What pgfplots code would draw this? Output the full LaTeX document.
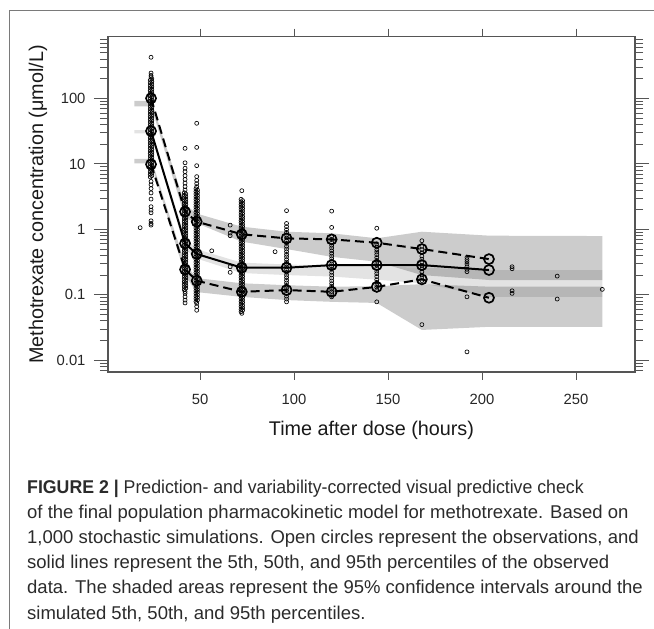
\documentclass[border=0pt]{standalone}
\usepackage{fontspec}
\setmainfont{Liberation Sans}
\newfontfamily\capfont{Liberation Sans}
\usepackage{pgfplots}
\pgfplotsset{compat=1.18}

\definecolor{axisgray}{HTML}{555555}
\definecolor{framegray}{HTML}{7A7A7A}
\definecolor{captext}{HTML}{2B2B2B}

\begin{document}
\begin{tikzpicture}
\useasboundingbox (0pt,0pt) rectangle (654pt,-629pt);
\draw[framegray, line width=0.9pt] (9.3pt,-629pt) -- (9.3pt,-10.7pt) -- (654pt,-10.7pt);
\begin{axis}[
  at={(108pt,-372pt)}, anchor=south west,
  scale only axis, width=527pt, height=335.3pt,
  ymode=log, xmin=1, xmax=281.4, ymin=0.0066, ymax=880,
  axis line style={axisgray, line width=1.1pt},
  every tick/.style={axisgray, line width=0.9pt},
  tick align=outside,
  major tick length=14pt, minor tick length=8pt,
  xtick={50,100,150,200,250}, xticklabels={50,100,150,200,250},
  major x tick style={draw=none},
  minor xtick={50,100,150,200,250},
  ytick={0.01,0.1,1,10,100}, yticklabels={0.01,0.1,1,10,100},
  minor ytick={0.007,0.008,0.009,0.02,0.03,0.04,0.05,0.06,0.07,0.08,0.09,
    0.2,0.3,0.4,0.5,0.6,0.7,0.8,0.9,2,3,4,5,6,7,8,9,
    20,30,40,50,60,70,80,90,200,300,400,500,600,700,800},
  /pgf/number format/assume math mode=true,
  tick label style={font=\fontsize{14.8}{16}\selectfont, text=black!85},
  xticklabel style={yshift=-5pt},
  yticklabel style={xshift=-5pt},
  label style={font=\fontsize{19.8}{22}\selectfont, text=black!90},
  xlabel={Time after dose (hours)},
  ylabel={Methotrexate concentration (μmol/L)},
  xlabel style={at={(axis description cs:0.5,0)}, anchor=center, yshift=-58pt},
  ylabel style={at={(axis description cs:-0.1328,0.5)}, anchor=center},
]
% CI band of the simulated 95th percentile
\addplot[fill=black, fill opacity=0.2, draw=none] table[row sep=\\] {
x y\\
15 92\\ 24 92\\ 42 2.4\\ 48 1.75\\ 72 1.10\\ 96 0.92\\ 120 0.87\\ 144 0.73\\
168 0.92\\ 204 0.80\\ 264 0.79\\
264 0.168\\ 204 0.168\\ 168 0.20\\ 144 0.32\\ 120 0.38\\ 96 0.50\\ 72 0.65\\
48 1.25\\ 42 1.5\\ 24 76\\ 15 76\\
};
% CI band of the simulated median
\addplot[fill=black, fill opacity=0.11, draw=none] table[row sep=\\] {
x y\\
15 33\\ 24 33\\ 42 0.75\\ 48 0.50\\ 72 0.31\\ 96 0.29\\ 120 0.28\\ 144 0.27\\
168 0.26\\ 204 0.239\\ 264 0.239\\
264 0.093\\ 204 0.093\\ 168 0.15\\ 144 0.17\\ 120 0.19\\ 96 0.20\\ 72 0.215\\
48 0.36\\ 42 0.50\\ 24 29.4\\ 15 29.4\\
};
% CI band of the simulated 5th percentile
\addplot[fill=black, fill opacity=0.2, draw=none] table[row sep=\\] {
x y\\
15 11.9\\ 24 11.9\\ 42 0.30\\ 48 0.18\\ 72 0.15\\ 96 0.14\\ 120 0.133\\ 144 0.135\\
168 0.145\\ 204 0.133\\ 264 0.133\\
264 0.0324\\ 204 0.0324\\ 168 0.029\\ 144 0.075\\ 120 0.078\\ 96 0.083\\ 72 0.093\\
48 0.11\\ 42 0.20\\ 24 10.2\\ 15 10.2\\
};
% observations
\addplot[only marks, mark=o, mark size=2pt, mark options={black, line width=0.65pt}] table[row sep=\\] {
x y\\
23.9 427\\ 23.9 245\\ 23.9 225\\ 23.9 213\\
23.5 6.31\\ 24.3 6.61\\ 23.5 6.92\\ 24.3 7.24\\ 23.5 7.59\\ 24.3 7.94\\ 23.5 8.32\\ 24.3 8.71\\
23.5 9.12\\ 24.3 9.55\\ 23.5 10\\ 24.3 10.5\\ 23.5 11\\ 24.3 11.5\\ 23.5 12\\ 24.3 12.6\\
23.5 13.2\\ 24.3 13.8\\ 23.5 14.5\\ 24.3 15.1\\ 23.5 15.8\\ 24.3 16.6\\ 23.5 17.4\\ 24.3 18.2\\
23.5 19.1\\ 24.3 20\\ 23.5 20.9\\ 24.3 21.9\\ 23.5 22.9\\ 24.3 24\\ 23.5 25.1\\ 24.3 26.3\\
23.5 27.5\\ 24.3 28.8\\ 23.5 30.2\\ 24.3 31.6\\ 23.5 33.1\\ 24.3 34.7\\ 23.5 36.3\\ 24.3 38\\
23.5 39.8\\ 24.3 41.7\\ 23.5 43.7\\ 24.3 45.7\\ 23.5 47.9\\ 24.3 50.1\\ 23.5 52.5\\ 24.3 55\\
23.5 57.5\\ 24.3 60.3\\ 23.5 63.1\\ 24.3 66.1\\ 23.5 69.2\\ 24.3 72.4\\ 23.5 75.9\\ 24.3 79.4\\
23.5 83.2\\ 24.3 87.1\\ 23.5 91.2\\ 24.3 95.5\\ 23.5 100\\ 24.3 105\\ 23.5 110\\ 24.3 115\\
23.5 120\\ 24.3 126\\ 23.5 132\\ 24.3 138\\ 23.5 145\\ 24.3 151\\ 23.5 158\\ 24.3 166\\
23.5 174\\ 24.3 182\\ 23.5 191\\ 24.3 200\\
23.9 5.4\\ 23.9 4.8\\ 23.9 4.2\\ 23.9 3.6\\ 23.9 2.9\\ 23.9 2.22\\ 23.9 1.97\\ 23.9 1.79\\
23.9 1.35\\ 23.9 1.23\\ 23.9 1.16\\
18.1 1.06\\
42.0 17.3\\ 42.0 10.4\\ 42.0 8.6\\ 42.0 7.6\\ 42.0 6.6\\ 42.0 5.8\\ 42.0 5.1\\ 42.0 4.5\\ 42.0 4.0\\
41.6 0.12\\ 42.4 0.126\\ 41.6 0.132\\ 42.4 0.138\\ 41.6 0.145\\ 42.4 0.151\\ 41.6 0.158\\ 42.4 0.166\\
41.6 0.174\\ 42.4 0.182\\ 41.6 0.191\\ 42.4 0.2\\ 41.6 0.209\\ 42.4 0.219\\ 41.6 0.229\\ 42.4 0.24\\
41.6 0.251\\ 42.4 0.263\\ 41.6 0.275\\ 42.4 0.288\\ 41.6 0.302\\ 42.4 0.316\\ 41.6 0.331\\ 42.4 0.347\\
41.6 0.363\\ 42.4 0.38\\ 41.6 0.398\\ 42.4 0.417\\ 41.6 0.437\\ 42.4 0.457\\ 41.6 0.479\\ 42.4 0.501\\
41.6 0.525\\ 42.4 0.55\\ 41.6 0.575\\ 42.4 0.603\\ 41.6 0.631\\ 42.4 0.661\\ 41.6 0.692\\ 42.4 0.724\\
41.6 0.759\\ 42.4 0.794\\ 41.6 0.832\\ 42.4 0.871\\ 41.6 0.912\\ 42.4 0.955\\ 41.6 1\\ 42.4 1.05\\
41.6 1.1\\ 42.4 1.15\\ 41.6 1.2\\ 42.4 1.26\\ 41.6 1.32\\ 42.4 1.38\\ 41.6 1.45\\ 42.4 1.51\\
41.6 1.58\\ 42.4 1.66\\ 41.6 1.74\\ 42.4 1.82\\ 41.6 1.91\\ 42.4 2\\ 41.6 2.09\\ 42.4 2.19\\
41.6 2.29\\ 42.4 2.4\\ 41.6 2.51\\ 42.4 2.63\\ 41.6 2.75\\ 42.4 2.88\\ 41.6 3.02\\ 42.4 3.16\\
41.6 3.31\\ 42.4 3.47\\ 41.6 3.63\\
42.0 0.112\\ 42.0 0.105\\ 42.0 0.093\\ 42.0 0.083\\ 42.0 0.075\\
48.2 41.8\\ 48.2 17.9\\ 48.2 9.4\\ 48.2 6.4\\ 48.2 5.6\\ 48.2 5.0\\ 48.2 4.5\\
47.8 0.079\\ 48.6 0.083\\ 47.8 0.087\\ 48.6 0.091\\ 47.8 0.095\\ 48.6 0.1\\ 47.8 0.105\\ 48.6 0.11\\
47.8 0.115\\ 48.6 0.12\\ 47.8 0.126\\ 48.6 0.132\\ 47.8 0.138\\ 48.6 0.145\\ 47.8 0.151\\ 48.6 0.158\\
47.8 0.166\\ 48.6 0.174\\ 47.8 0.182\\ 48.6 0.191\\ 47.8 0.2\\ 48.6 0.209\\ 47.8 0.219\\ 48.6 0.229\\
47.8 0.24\\ 48.6 0.251\\ 47.8 0.263\\ 48.6 0.275\\ 47.8 0.288\\ 48.6 0.302\\ 47.8 0.316\\ 48.6 0.331\\
47.8 0.347\\ 48.6 0.363\\ 47.8 0.38\\ 48.6 0.398\\ 47.8 0.417\\ 48.6 0.437\\ 47.8 0.457\\ 48.6 0.479\\
47.8 0.501\\ 48.6 0.525\\ 47.8 0.55\\ 48.6 0.575\\ 47.8 0.603\\ 48.6 0.631\\ 47.8 0.661\\ 48.6 0.692\\
47.8 0.724\\ 48.6 0.759\\ 47.8 0.794\\ 48.6 0.832\\ 47.8 0.871\\ 48.6 0.912\\ 47.8 0.955\\ 48.6 1\\
47.8 1.05\\ 48.6 1.1\\ 47.8 1.15\\ 48.6 1.2\\ 47.8 1.26\\ 48.6 1.32\\ 47.8 1.38\\ 48.6 1.45\\
47.8 1.51\\ 48.6 1.58\\ 47.8 1.66\\ 48.6 1.74\\ 47.8 1.82\\ 48.6 1.91\\ 47.8 2\\ 48.6 2.09\\
47.8 2.19\\ 48.6 2.29\\ 47.8 2.4\\ 48.6 2.51\\ 47.8 2.63\\ 48.6 2.75\\ 47.8 2.88\\ 48.6 3.02\\
47.8 3.16\\ 48.6 3.31\\ 47.8 3.47\\ 48.6 3.63\\ 47.8 3.8\\ 48.6 3.98\\ 47.8 4.17\\
48.2 0.074\\ 48.2 0.066\\ 48.2 0.058\\
56.2 0.47\\ 66.0 1.16\\ 66.0 0.88\\ 66.0 0.80\\ 66.0 0.268\\ 66.0 0.22\\
72.2 3.9\\
71.8 0.055\\ 72.6 0.058\\ 71.8 0.06\\ 72.6 0.063\\ 71.8 0.066\\ 72.6 0.069\\ 71.8 0.072\\ 72.6 0.076\\
71.8 0.079\\ 72.6 0.083\\ 71.8 0.087\\ 72.6 0.091\\ 71.8 0.095\\ 72.6 0.1\\ 71.8 0.105\\ 72.6 0.11\\
71.8 0.115\\ 72.6 0.12\\ 71.8 0.126\\ 72.6 0.132\\ 71.8 0.138\\ 72.6 0.145\\ 71.8 0.151\\ 72.6 0.158\\
71.8 0.166\\ 72.6 0.174\\ 71.8 0.182\\ 72.6 0.191\\ 71.8 0.2\\ 72.6 0.209\\ 71.8 0.219\\ 72.6 0.229\\
71.8 0.24\\ 72.6 0.251\\ 71.8 0.263\\ 72.6 0.275\\ 71.8 0.288\\ 72.6 0.302\\ 71.8 0.316\\ 72.6 0.331\\
71.8 0.347\\ 72.6 0.363\\ 71.8 0.38\\ 72.6 0.398\\ 71.8 0.417\\ 72.6 0.437\\ 71.8 0.457\\ 72.6 0.479\\
71.8 0.501\\ 72.6 0.525\\ 71.8 0.55\\ 72.6 0.575\\ 71.8 0.603\\ 72.6 0.631\\ 71.8 0.661\\ 72.6 0.692\\
71.8 0.724\\ 72.6 0.759\\ 71.8 0.794\\ 72.6 0.832\\ 71.8 0.871\\ 72.6 0.912\\ 71.8 0.955\\ 72.6 1\\
71.8 1.05\\ 72.6 1.1\\ 71.8 1.15\\ 72.6 1.2\\ 71.8 1.26\\ 72.6 1.32\\ 71.8 1.38\\ 72.6 1.45\\
71.8 1.51\\ 72.6 1.58\\ 71.8 1.66\\ 72.6 1.74\\ 71.8 1.82\\ 72.6 1.91\\ 71.8 2\\ 72.6 2.09\\
71.8 2.19\\ 72.6 2.29\\ 71.8 2.4\\ 72.6 2.51\\ 71.8 2.63\\ 72.6 2.75\\ 71.8 2.88\\
72.2 0.052\\
89.9 0.455\\
96.0 1.93\\ 96.0 1.23\\ 96.0 1.1\\ 96.0 0.99\\ 96.0 0.9\\ 96.0 0.82\\ 96.0 0.74\\ 96.0 0.67\\
96.0 0.61\\ 96.0 0.55\\ 96.0 0.5\\ 96.0 0.455\\ 96.0 0.415\\ 96.0 0.38\\ 96.0 0.345\\ 96.0 0.315\\
96.0 0.29\\ 96.0 0.265\\ 96.0 0.24\\ 96.0 0.22\\ 96.0 0.2\\ 96.0 0.183\\ 96.0 0.167\\ 96.0 0.152\\
96.0 0.139\\ 96.0 0.127\\ 96.0 0.116\\ 96.0 0.105\\ 96.0 0.095\\ 96.0 0.086\\ 96.0 0.078\\
120.0 1.9\\ 120.0 1.07\\ 120.0 0.78\\ 120.0 0.7\\ 120.0 0.63\\ 120.0 0.57\\ 120.0 0.52\\ 120.0 0.47\\
120.0 0.43\\ 120.0 0.39\\ 120.0 0.355\\ 120.0 0.325\\ 120.0 0.295\\ 120.0 0.27\\ 120.0 0.245\\ 120.0 0.22\\
120.0 0.2\\ 120.0 0.18\\ 120.0 0.163\\ 120.0 0.148\\ 120.0 0.135\\ 120.0 0.123\\ 120.0 0.112\\ 120.0 0.104\\
120.0 0.093\\
144.0 1.04\\ 144.0 0.6\\ 144.0 0.54\\ 144.0 0.49\\ 144.0 0.45\\ 144.0 0.41\\ 144.0 0.37\\ 144.0 0.335\\
144.0 0.305\\ 144.0 0.28\\ 144.0 0.255\\ 144.0 0.23\\ 144.0 0.21\\ 144.0 0.19\\ 144.0 0.17\\ 144.0 0.155\\
144.0 0.14\\ 144.0 0.13\\ 144.0 0.118\\ 144.0 0.078\\
168.0 0.67\\ 168.0 0.55\\ 168.0 0.49\\ 168.0 0.44\\ 168.0 0.39\\ 168.0 0.35\\ 168.0 0.315\\ 168.0 0.28\\
168.0 0.25\\ 168.0 0.225\\ 168.0 0.2\\ 168.0 0.18\\ 168.0 0.165\\ 168.0 0.035\\
192.0 0.373\\ 192.0 0.345\\ 192.0 0.32\\ 192.0 0.295\\ 192.0 0.268\\ 192.0 0.245\\ 192.0 0.225\\
192.0 0.093\\ 192.0 0.0134\\
216.0 0.268\\ 216.0 0.25\\ 216.0 0.115\\ 216.0 0.105\\
240.0 0.193\\ 240.0 0.086\\
264.0 0.121\\
};
% observed percentiles
\addplot[black, line width=2pt, dash pattern=on 9pt off 5pt, mark=o, mark size=5pt,
  mark options={solid, line width=1.7pt}] table[row sep=\\] {
x y\\
23.9 100.7\\ 42.0 1.86\\ 48.2 1.31\\ 72.2 0.84\\ 96.0 0.728\\ 120.0 0.703\\ 144.0 0.624\\
168.0 0.50\\ 203.7 0.351\\
};
\addplot[black, line width=2pt, mark=o, mark size=5pt, mark options={line width=1.7pt}] table[row sep=\\] {
x y\\
23.9 31.8\\ 42.0 0.61\\ 48.2 0.42\\ 72.2 0.259\\ 96.0 0.259\\ 120.0 0.284\\ 144.0 0.284\\
168.0 0.284\\ 203.7 0.239\\
};
\addplot[black, line width=2pt, dash pattern=on 9pt off 5pt, mark=o, mark size=5pt,
  mark options={solid, line width=1.7pt}] table[row sep=\\] {
x y\\
23.9 9.86\\ 42.0 0.244\\ 48.2 0.164\\ 72.2 0.111\\ 96.0 0.118\\ 120.0 0.111\\ 144.0 0.132\\
168.0 0.172\\ 203.7 0.09\\
};
\end{axis}
\begin{scope}[captext, font=\capfont\fontsize{18.5}{25.2}\selectfont]
\node[anchor=base west, inner sep=0pt] at (27pt,-493pt) {\scalebox{0.958}[1]{\textbf{FIGURE 2 |} Prediction- and variability-corrected visual predictive check}};
\node[anchor=base west, inner sep=0pt] at (27pt,-518.2pt) {of the final population pharmacokinetic model for methotrexate. Based on};
\node[anchor=base west, inner sep=0pt] at (27pt,-543.4pt) {1,000 stochastic simulations. Open circles represent the observations, and};
\node[anchor=base west, inner sep=0pt] at (27pt,-568.6pt) {solid lines represent the 5th, 50th, and 95th percentiles of the observed};
\node[anchor=base west, inner sep=0pt] at (27pt,-593.8pt) {data. The shaded areas represent the 95\% confidence intervals around the};
\node[anchor=base west, inner sep=0pt] at (27pt,-619pt) {simulated 5th, 50th, and 95th percentiles.};
\end{scope}
\end{tikzpicture}
\end{document}
